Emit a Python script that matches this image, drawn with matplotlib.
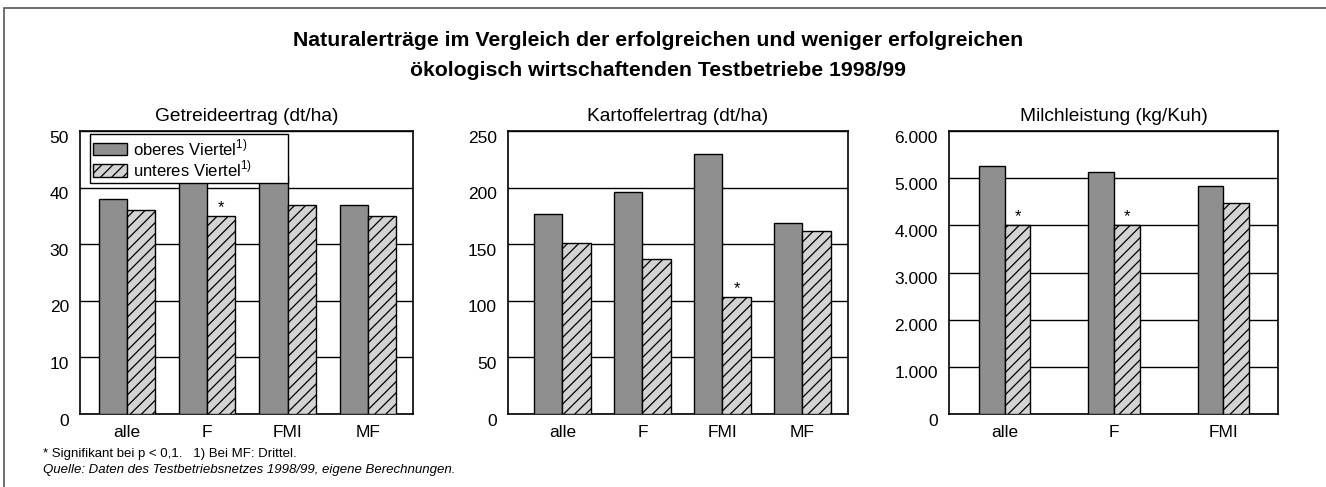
import matplotlib.pyplot as plt
import numpy as np
from matplotlib.patches import Rectangle
from matplotlib.ticker import FuncFormatter
from matplotlib.transforms import ScaledTranslation

plt.rcParams['font.family'] = ['Liberation Sans', 'DejaVu Sans']
plt.rcParams['mathtext.fontset'] = 'custom'
plt.rcParams['mathtext.rm'] = 'Liberation Sans'
plt.rcParams['hatch.linewidth'] = 0.9

# data
cats4 = ['alle', 'F', 'FMI', 'MF']
cats3 = ['alle', 'F', 'FMI']
getreide_oben = [38, 41, 42, 37]
getreide_unten = [36, 35, 37, 35]
getreide_sig = [False, True, False, False]
kartoffel_oben = [177, 196, 230, 169]
kartoffel_unten = [151, 137, 103, 162]
kartoffel_sig = [False, False, True, False]
milch_oben = [5260, 5130, 4830]
milch_unten = [4010, 4010, 4480]
milch_sig = [True, True, False]

col_dark = '#8f8f8f'
col_light = '#d3d3d3'

fig = plt.figure(figsize=(13.26, 4.87), dpi=100)

# outer frame (only left/top visible in original)
fig.patches.append(Rectangle((4/1326, -0.1), 1.2, 1 - 8/487 + 0.1,
                             transform=fig.transFigure, fill=False,
                             edgecolor='#555555', lw=1.2))

fig.text(658/1326, 1 - 40/487, 'Naturalerträge im Vergleich der erfolgreichen und weniger erfolgreichen',
         ha='center', va='center', fontsize=15.3, fontweight='bold')
fig.text(658/1326, 1 - 70/487, 'ökologisch wirtschaftenden Testbetriebe 1998/99',
         ha='center', va='center', fontsize=15.3, fontweight='bold')


def panel(rect, cats, oben, unten, sig, ymax, step, title, width, xl, fmt=None, legend=False):
    ax = fig.add_axes(rect)
    x = np.arange(len(cats))
    ax.bar(x - width / 2, oben, width, color=col_dark, edgecolor='black', lw=1, zorder=3,
           label='oberes Viertel$^{1)}$')
    ax.bar(x + width / 2, unten, width, color=col_light, edgecolor='black', lw=1, hatch='///',
           zorder=3, label='unteres Viertel$^{1)}$')
    for xi, v, s in zip(x, unten, sig):
        if s:
            ax.text(xi + width / 2, v + ymax * 0.003, '*', ha='center', va='bottom', fontsize=12,
                    zorder=4)
    ax.set_xlim(*xl)
    ax.set_ylim(0, ymax)
    ax.set_yticks(np.arange(0, ymax + step / 2, step))
    ax.set_xticks(x)
    ax.set_xticklabels(cats)
    if fmt:
        ax.yaxis.set_major_formatter(FuncFormatter(fmt))
    ax.grid(axis='y', color='black', lw=1, zorder=1)
    ax.tick_params(length=0, labelsize=12.5)
    ax.tick_params(axis='y', pad=8)
    ax.tick_params(axis='x', pad=8)
    for lab in ax.get_yticklabels():
        lab.set_transform(lab.get_transform() + ScaledTranslation(0, -4 / 72, fig.dpi_scale_trans))
    for sp in ax.spines.values():
        sp.set_linewidth(1.2)
    ax.set_title(title, fontsize=13.8, pad=7)
    if legend:
        leg = ax.legend(loc='upper left', bbox_to_anchor=(10/333, 0, 198/333, 1 - 3/283),
                        mode='expand', fontsize=12,
                        frameon=True, fancybox=False, framealpha=1, edgecolor='black',
                        handlelength=2.0, handleheight=0.75, borderpad=0.2, labelspacing=0.05,
                        handletextpad=0.4, borderaxespad=0)
        leg.get_frame().set_linewidth(1)
        leg.set_zorder(5)
    return ax


panel([80/1326, 1 - 414/487, 333/1326, 283/487], cats4, getreide_oben, getreide_unten,
      getreide_sig, 50, 10, 'Getreideertrag (dt/ha)', 0.35, (-0.58, 3.56), legend=True)
panel([508/1326, 1 - 414/487, 340/1326, 283/487], cats4, kartoffel_oben, kartoffel_unten,
      kartoffel_sig, 250, 50, 'Kartoffelertrag (dt/ha)', 0.36, (-0.68, 3.57))
panel([949/1326, 1 - 414/487, 329/1326, 283/487], cats3, milch_oben, milch_unten,
      milch_sig, 6000, 1000, 'Milchleistung (kg/Kuh)', 0.235, (-0.51, 2.5),
      fmt=lambda v, p: f'{int(v):,}'.replace(',', '.'))

fig.text(43/1326, 1 - 454/487, '* Signifikant bei p < 0,1.   1) Bei MF: Drittel.',
         ha='left', va='center', fontsize=9.5)
fig.text(43/1326, 1 - 470/487, 'Quelle: Daten des Testbetriebsnetzes 1998/99, eigene Berechnungen.',
         ha='left', va='center', fontsize=9.5, style='italic')

fig.savefig('out.png', dpi=100)
